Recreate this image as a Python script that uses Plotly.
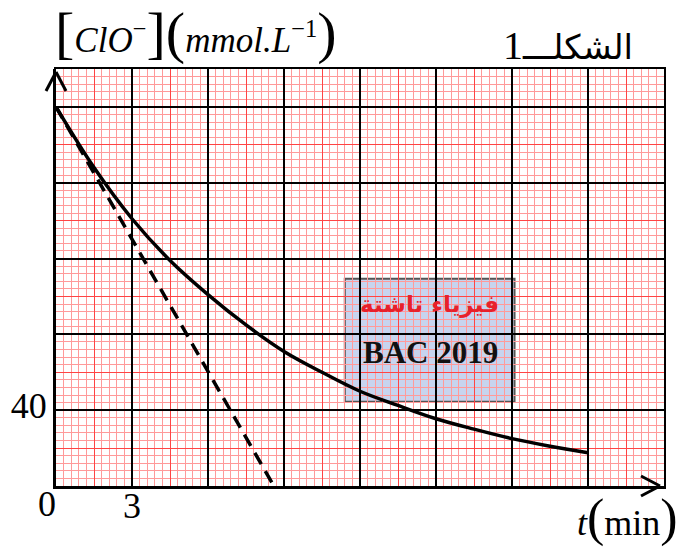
import plotly.graph_objects as go

# ---- data ----
t_min = [0, 1.5, 3, 4.5, 6, 7.5, 9, 10.5, 12, 13.5, 15, 16.5, 18, 19.5, 21]
clo_mmol = [200, 168, 141, 119, 101, 85, 71, 60, 50, 42.5, 35.5, 30, 25, 21, 17.5]
tangent_t = [0, 8.6]
tangent_c = [200, 0]

x_major = [0, 3, 6, 9, 12, 15, 18, 21, 24]
x_major_text = ["", "3", "", "", "", "", "", "", ""]
y_major = [0, 40, 80, 120, 160, 200]
y_major_text = ["", "40", "", "", "", ""]

SERIF = "Liberation Serif, Times New Roman, serif"
ARAB = "DejaVu Sans, Noto Sans, sans-serif"

fig = go.Figure()

fig.add_trace(go.Scatter(
    x=t_min, y=clo_mmol, mode="lines", line=dict(color="black", width=3.5, shape="spline"),
    showlegend=False, hoverinfo="skip"))
fig.add_trace(go.Scatter(
    x=tangent_t, y=tangent_c, mode="lines", line=dict(color="black", width=3.5, dash="13px,8px"),
    showlegend=False, hoverinfo="skip"))
# empty trace so that the overlay (black major grid) axes exist
fig.add_trace(go.Scatter(x=[], y=[], xaxis="x2", yaxis="y2", showlegend=False, hoverinfo="skip"))

fig.update_layout(
    template="none",
    width=684, height=552,
    margin=dict(l=56, r=20, t=69, b=66, autoexpand=False),
    paper_bgcolor="white", plot_bgcolor="white",
    xaxis=dict(range=[0, 24], tick0=0, dtick=1.5, showgrid=True, gridcolor="#ff4444", gridwidth=1,
               minor=dict(tick0=0, dtick=0.3, showgrid=True, gridcolor="#ff9a9a", gridwidth=1),
               showticklabels=False, ticks="", zeroline=False, automargin=False,
               showline=True, linecolor="black", linewidth=3),
    yaxis=dict(range=[0, 220], tick0=0, dtick=20, showgrid=True, gridcolor="#ff4444", gridwidth=1,
               minor=dict(tick0=0, dtick=4, showgrid=True, gridcolor="#ff9a9a", gridwidth=1),
               showticklabels=False, ticks="", zeroline=False, automargin=False,
               showline=True, linecolor="black", linewidth=3),
    xaxis2=dict(overlaying="x", anchor="y2", range=[0, 24], tickmode="array",
                tickvals=x_major, ticktext=x_major_text, showgrid=True, gridcolor="black", gridwidth=2,
                ticks="", zeroline=False, showline=True, mirror=True, linecolor="black", linewidth=2,
                ticklabelstandoff=-13, automargin=False,
                tickfont=dict(family=SERIF, size=36, color="black")),
    yaxis2=dict(overlaying="y", anchor="x2", range=[0, 220], tickmode="array",
                tickvals=y_major, ticktext=y_major_text, showgrid=True, gridcolor="black", gridwidth=2,
                ticks="", zeroline=False, showline=True, mirror=True, linecolor="black", linewidth=2,
                ticklabelstandoff=0, ticklabelshift=-5, automargin=False,
                tickfont=dict(family=SERIF, size=36, color="black")),
)

# watermark box (below the grid)
fig.add_shape(type="rect", xref="x", yref="y", x0=11.4, x1=18.1, y0=44.4, y1=109.3,
              layer="below", fillcolor="#c7d4ef", line=dict(color="#555555", width=2))

# axis arrow heads (open chevrons), pixel offsets from the axis ends
arrow_style = dict(color="black", width=3)
for sx in (-1, 1):
    fig.add_shape(type="line", xref="paper", yref="paper", xsizemode="pixel", ysizemode="pixel",
                  xanchor=0, yanchor=1, x0=sx * 10, y0=-22, x1=0, y1=-3,
                  line=arrow_style, layer="above")
    fig.add_shape(type="line", xref="paper", yref="paper", xsizemode="pixel", ysizemode="pixel",
                  xanchor=1, yanchor=0, x0=-23, y0=sx * 10, x1=-4, y1=0,
                  line=arrow_style, layer="above")

big = "font-size:58px"
ylabel = (f'<span style="{big}">[</span><i>ClO</i><sup>−</sup><span style="{big}">]</span>'
          f'<span style="{big}">(</span><i>mmol.L</i><sup>−1</sup><span style="{big}">)</span>')
fig.add_annotation(xref="paper", yref="paper", x=0, y=1, xanchor="left", yanchor="bottom",
                   xshift=-3, yshift=2, text=ylabel, showarrow=False,
                   font=dict(family=SERIF, size=35, color="black"))

fig.add_annotation(xref="x", yref="y", x=0, y=0, xanchor="center", yanchor="middle",
                   xshift=-9, yshift=-18, text="0", showarrow=False,
                   font=dict(family=SERIF, size=36, color="black"))

xlabel = '<i>t</i><span style="font-size:52px">(</span>min<span style="font-size:52px">)</span>'
fig.add_annotation(xref="paper", yref="paper", x=1, y=0, xanchor="right", yanchor="top",
                   xshift=16, yshift=-1, text=xlabel, showarrow=False,
                   font=dict(family=SERIF, size=36, color="black"))

fig.add_annotation(xref="paper", yref="paper", x=0.842, y=1, xanchor="center", yanchor="middle",
                   yshift=24, text='الشكلـــ<span style="font-family:Liberation Serif;font-size:40px">1</span>',
                   showarrow=False,
                   font=dict(family="DejaVu Sans", size=34, color="black"))

fig.add_annotation(xref="x", yref="y", x=14.75, y=95.6, xanchor="center", yanchor="middle",
                   text="<b>فيزياء تاشتة</b>", showarrow=False,
                   font=dict(family=ARAB, size=23, color="#e8202a"))
fig.add_annotation(xref="x", yref="y", x=14.8, y=70.3, xanchor="center", yanchor="middle",
                   text="<b>BAC 2019</b>", showarrow=False,
                   font=dict(family=SERIF, size=31, color="#111111"))

fig.write_html("out.html", config={"displayModeBar": False},
               post_script="document.body.style.margin='0';")
